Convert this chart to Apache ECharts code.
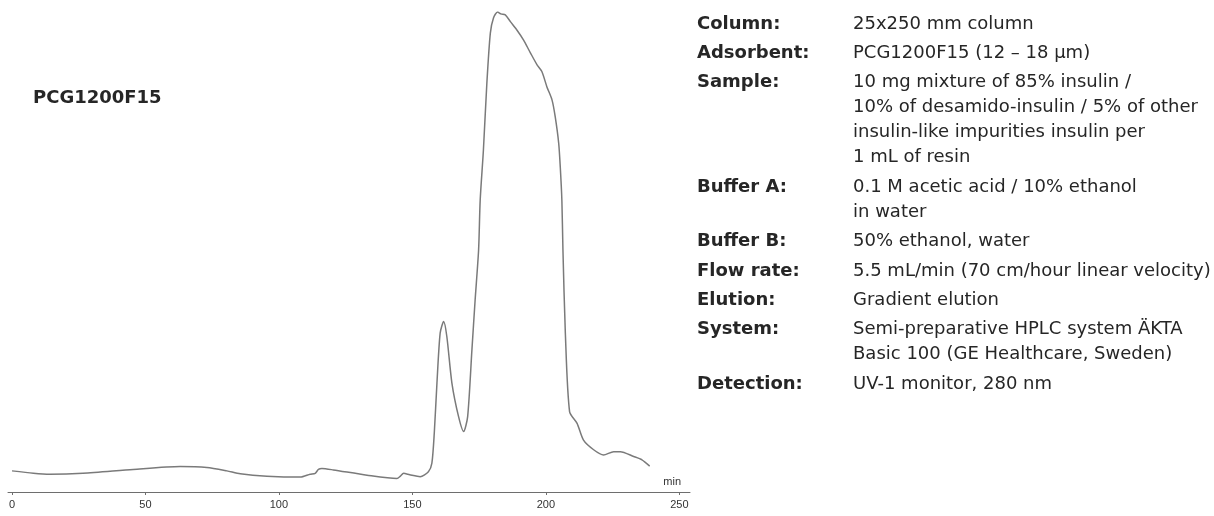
<!DOCTYPE html>
<html>
<head>
<meta charset="utf-8">
<script src="https://cdn.jsdelivr.net/npm/echarts@6/dist/echarts.min.js"></script>
<style>
  html, body { margin: 0; padding: 0; background: #fff; }
  #chart { width: 1214px; height: 516px; }
</style>
</head>
<body>
<div id="chart"></div>
<script>
// Elution time (min) and UV 280 nm absorbance (relative units)
const times = [0, 8, 14.2, 26.6, 45.4, 63, 73, 80.5, 85.5, 95.5, 108, 111.7, 113.6, 114.8, 116.1, 120.4,
  133, 144.2, 145.5, 146.7, 149, 152.9, 156, 157.3, 158.2, 159.2, 160.4, 161.7, 162.9, 164.8, 167.3,
  169.2, 170.7, 172.3, 173.5, 174.8, 175.4, 176.6, 177.9, 179.2, 180.4, 181.9, 183.2, 184.8, 186.7,
  189.2, 191.6, 194.2, 196.7, 198.5, 200.4, 202.3, 203.5, 204.8, 205.4, 206, 206.4, 207.3, 208.9,
  211.7, 214.1, 217.9, 221.6, 225.4, 227.9, 232.9, 236, 238.9];
const absorbance = [44, 39, 37, 39, 47, 53, 51, 44, 38, 33, 31, 37, 39, 47, 49, 46,
  35, 28, 33, 39, 36, 32, 42, 60, 123, 227, 331, 355, 324, 227, 157,
  126, 157, 296, 400, 504, 608, 712, 852, 956, 988, 1000, 996, 994, 980,
  962, 942, 915, 890, 876, 844, 817, 782, 727, 677, 608, 504, 331, 167,
  143, 108, 88, 77, 84, 84, 74, 67, 54];

// Axis ticks and extent of the drawn axis line
const xTicks = [0, 50, 100, 150, 200, 250];
const xLineMin = -1.5;
const xLineMax = 254;
const xUnit = 'min';
const resinName = 'PCG1200F15';

// Run conditions
const paramLabels = ['Column:', 'Adsorbent:', 'Sample:', 'Buffer A:', 'Buffer B:', 'Flow rate:',
  'Elution:', 'System:', 'Detection:'];
const paramValues = [
  '25x250 mm column',
  'PCG1200F15 (12 – 18 µm)',
  '10 mg mixture of 85% insulin /\n10% of desamido-insulin / 5% of other\ninsulin-like impurities insulin per\n1 mL of resin',
  '0.1 M acetic acid / 10% ethanol\nin water',
  '50% ethanol, water',
  '5.5 mL/min (70 cm/hour linear velocity)',
  'Gradient elution',
  'Semi-preparative HPLC system ÄKTA\nBasic 100 (GE Healthcare, Sweden)',
  'UV-1 monitor, 280 nm'
];

const FONT = '"DejaVu Sans", Verdana, sans-serif';
const AXIS_FONT = '"Liberation Sans", Arial, sans-serif';
const TEXT_COLOR = '#262626';
const LINE_H = 25;
const ROW_GAP = 4.4;

// Text block: label column and value column, rows stacked by line count
const graphics = [];
let rowTop = 11.5;
paramLabels.forEach((lab, i) => {
  const nLines = paramValues[i].split('\n').length;
  graphics.push({
    type: 'text', left: 697, top: rowTop,
    style: { text: lab, font: 'bold 18px ' + FONT, fill: TEXT_COLOR, lineHeight: LINE_H }
  });
  graphics.push({
    type: 'text', left: 853, top: rowTop,
    style: { text: paramValues[i], font: '18px ' + FONT, fill: TEXT_COLOR, lineHeight: LINE_H }
  });
  rowTop += nLines * LINE_H + ROW_GAP;
});
graphics.push({
  type: 'text', left: 33, top: 86,
  style: { text: resinName, font: 'bold 18px ' + FONT, fill: TEXT_COLOR, lineHeight: 25 }
});
graphics.push({
  type: 'text', right: 1214 - 681, top: 476,
  style: { text: xUnit, font: '11px ' + AXIS_FONT, fill: '#333' }
});

const chart = echarts.init(document.getElementById('chart'), null, { renderer: 'canvas' });
chart.setOption({
  animation: false,
  backgroundColor: '#fff',
  grid: { left: 8, right: 524, top: 12, bottom: 24, containLabel: false },
  xAxis: {
    type: 'value', min: xLineMin, max: xLineMax,
    axisLine: { show: true, lineStyle: { color: '#6e6e6e', width: 1 } },
    axisTick: { show: true, length: 3, customValues: xTicks, lineStyle: { color: '#6e6e6e' } },
    axisLabel: {
      fontSize: 11, color: '#333', margin: 7, fontFamily: AXIS_FONT,
      customValues: xTicks
    },
    splitLine: { show: false }
  },
  yAxis: { type: 'value', min: 0, max: 1000, show: false },
  series: [{
    type: 'line',
    data: times.map((t, i) => [t, absorbance[i]]),
    showSymbol: false,
    smooth: 0.25,
    lineStyle: { color: '#7a7a7a', width: 1.5 }
  }],
  graphic: graphics
});
</script>
</body>
</html>
